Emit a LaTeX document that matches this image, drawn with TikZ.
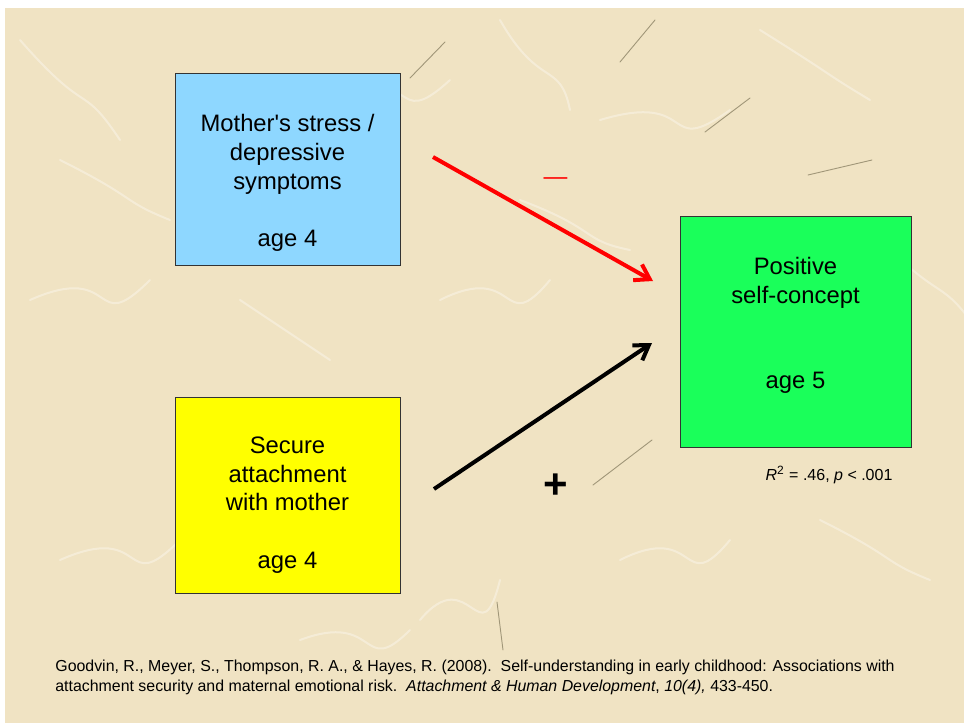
\documentclass[tikz,border=0pt]{standalone}
\usepackage{fontspec}
\setmainfont{Liberation Sans}
\usepackage{xcolor}
\usetikzlibrary{positioning,arrows.meta}

\definecolor{paperbg}{RGB}{240,227,195}
\definecolor{fibredark}{RGB}{160,150,120}
\definecolor{stressblue}{RGB}{142,215,255}
\definecolor{secureyellow}{RGB}{255,255,0}
\definecolor{selfgreen}{RGB}{26,255,90}
\definecolor{signred}{RGB}{255,0,0}

\begin{document}
\begin{tikzpicture}
[
x=0.5pt, y=-0.5pt,
cell-a/.style={rectangle, draw=black!80, line width=0.5pt, inner sep=0pt,
  minimum width=112.5pt, minimum height=96pt},
text-b/.style={inner sep=0pt, align=center, font=\fontsize{11.9}{14.3}\selectfont},
path-a/.style={line width=2pt, -{Straight Barb[length=7pt, width=9pt]}},
text-a/.style={inner sep=0pt},
fibre-a/.style={white, opacity=0.35, line width=1pt, line cap=round},
fibre-b/.style={fibredark, line width=0.45pt, line cap=round}
]

\useasboundingbox (0,0) rectangle (964,723);
\fill [paperbg] (5,8) rectangle (964,723);

% paper texture
\foreach \a/\b/\c/\d in {20/40/90/120, 330/95/420/60, 600/120/700/90, 760/30/840/80, 30/300/120/260,
  440/300/520/260, 60/560/150/520, 620/560/700/520, 420/620/470/560, 880/240/940/300, 500/20/540/90,
  240/300/300/340, 520/200/600/230, 60/160/140/200, 820/520/900/560, 300/640/380/610}
  {\draw [fibre-a] (\a,\b) .. controls (\c,\d) and (\a+60,\b+40) .. (\c+30,\d+20);}
\foreach \a/\b/\c/\d in {620/62/655/20, 705/132/750/98, 808/175/872/160, 410/78/445/42,
  593/485/652/440, 497/602/503/650}
  {\draw [fibre-b] (\a,\b) -- (\c,\d);}

\node (cell-stress) [cell-a, fill=stressblue] at (287.5,169) {};
\node (cell-secure) [cell-a, fill=secureyellow, minimum height=98pt, below = 65.5pt of cell-stress] {};
\node (cell-self)   [cell-a, fill=selfgreen, minimum width=115.5pt, minimum height=115.5pt] at (795.5,331.5) {};

\node (cell-stress-txt) [text-b] at ([yshift=-7pt]cell-stress.center)
  {Mother\textquotesingle s stress /\\depressive\\symptoms\\[14.3pt]age 4};
\node (cell-secure-txt) [text-b] at ([yshift=-5pt]cell-secure.center)
  {Secure\\attachment\\with mother\\[14.3pt]age 4};
\node (cell-self-txt)   [text-b] at ([yshift=3pt]cell-self.center)
  {Positive\\self-concept\\[28.6pt]age 5};

\coordinate (stress-out) at (433,157);
\coordinate (self-in-a)  at (653,281);
\coordinate (secure-out) at (434,489);
\coordinate (self-in-b)  at (652,343);

\draw [path-a, signred] (stress-out) -- (self-in-a);
\draw [path-a, black]   (secure-out) -- (self-in-b);

\node (sign-a) [text-a, signred, anchor=base, font=\fontsize{11.9}{14.3}\selectfont] at (555.5,184) {---};
\node (sign-b) [text-a, anchor=base, font=\fontsize{21}{25}\selectfont\bfseries] at (556,498) {+};

\node (fit-r2) [text-a, anchor=base, font=\fontsize{8}{10}\selectfont] at (829,480)
  {\textit{R}\textsuperscript{2} = .46, \textit{p} < .001};

\node (cite-1) [text-a, anchor=base west, font=\fontsize{7.95}{9}\selectfont] at (55,671)
  {Goodvin, R., Meyer, S., Thompson, R. A., \& Hayes, R. (2008).\ \ Self-understanding in early childhood: Associations with};
\node (cite-2) [text-a, anchor=base west, font=\fontsize{7.95}{9}\selectfont] at (55,691)
  {attachment security and maternal emotional risk.\ \ \textit{Attachment \& Human Development}, \textit{10(4),} 433-450.};

\end{tikzpicture}
\end{document}
